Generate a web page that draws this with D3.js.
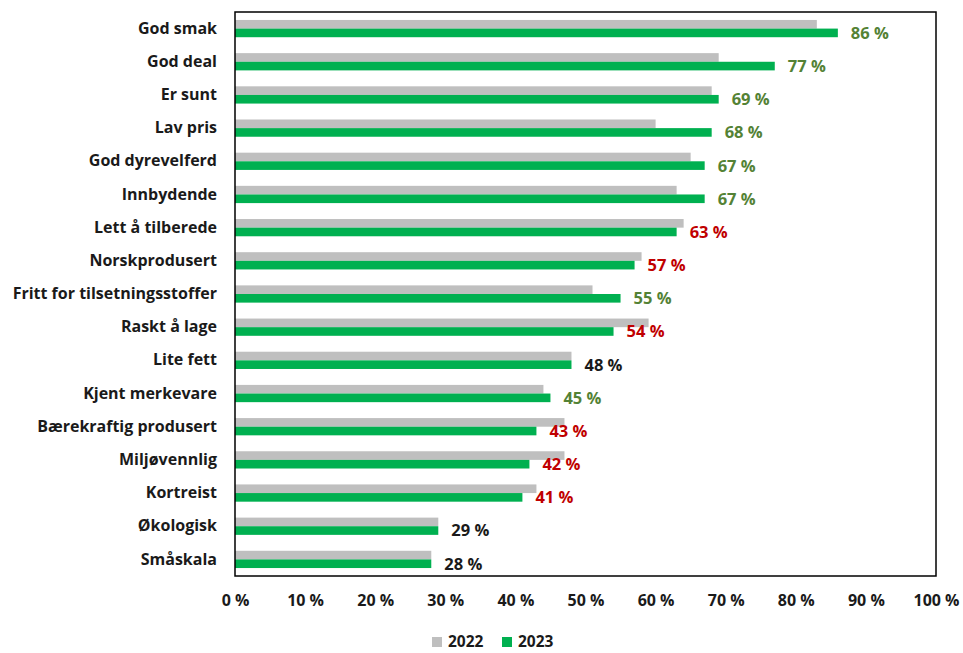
<!DOCTYPE html>
<html>
<head>
<meta charset="utf-8">
<script src="https://cdn.jsdelivr.net/npm/d3@7"></script>
<style>
  html, body { margin: 0; padding: 0; background: #fff; }
  svg { display: block; }
  text { font-family: "Open Sans", Lato, "Liberation Sans", sans-serif; font-weight: 700; }
</style>
</head>
<body>
<svg id="chart" width="963" height="653"></svg>
<script>
// Reasons for choosing a product, share of respondents
const categories = [
  "God smak", "God deal", "Er sunt", "Lav pris", "God dyrevelferd", "Innbydende",
  "Lett å tilberede", "Norskprodusert", "Fritt for tilsetningsstoffer", "Raskt å lage",
  "Lite fett", "Kjent merkevare", "Bærekraftig produsert", "Miljøvennlig",
  "Kortreist", "Økologisk", "Småskala"
];
const years = ["2022", "2023"];
const values2022 = [83, 69, 68, 60, 65, 63, 64, 58, 51, 59, 48, 44, 47, 47, 43, 29, 28];
const values2023 = [86, 77, 69, 68, 67, 67, 63, 57, 55, 54, 48, 45, 43, 42, 41, 29, 28];
const xTicks = [0, 10, 20, 30, 40, 50, 60, 70, 80, 90, 100];

const colors = { "2022": "#BFBFBF", "2023": "#00B050" };
const changeColor = d => d > 0 ? "#548235" : d < 0 ? "#C00000" : "#1a1a1a";
const fontStack = "'Open Sans', Lato, sans-serif";

const svg = d3.select("#chart");
const plot = { left: 235, right: 936, top: 12, bottom: 576 };

const x = d3.scaleLinear().domain([0, 100]).range([plot.left, plot.right]);
const y = d3.scaleBand().domain(categories).range([plot.top, plot.bottom])
  .paddingInner(0.48).paddingOuter(0.24);
const ySub = d3.scaleBand().domain(years).range([0, y.bandwidth()]);

const rows = categories.map((c, i) => ({
  cat: c,
  v: { "2022": values2022[i], "2023": values2023[i] }
}));

// bars
const groups = svg.append("g").selectAll("g").data(rows).join("g")
  .attr("transform", d => `translate(0,${y(d.cat)})`);
groups.selectAll("rect").data(d => years.map(yr => ({ yr, val: d.v[yr] }))).join("rect")
  .attr("x", x(0))
  .attr("y", d => ySub(d.yr))
  .attr("width", d => x(d.val) - x(0))
  .attr("height", ySub.bandwidth())
  .attr("fill", d => colors[d.yr]);

// value labels for 2023, coloured by change from 2022
groups.append("text")
  .attr("x", d => x(d.v["2023"]) + 13)
  .attr("y", d => ySub("2023") + ySub.bandwidth() / 2)
  .attr("dy", "0.36em")
  .attr("font-size", 16.5)
  .attr("fill", d => changeColor(d.v["2023"] - d.v["2022"]))
  .text(d => d.v["2023"] + " %");

// plot frame
svg.append("rect")
  .attr("x", plot.left).attr("y", plot.top)
  .attr("width", plot.right - plot.left).attr("height", plot.bottom - plot.top)
  .attr("fill", "none").attr("stroke", "#000").attr("stroke-width", 1.5);

// category axis
const yAxis = svg.append("g")
  .attr("transform", `translate(${plot.left},0)`)
  .call(d3.axisLeft(y).tickSize(0).tickPadding(18));
yAxis.select(".domain").remove();
yAxis.selectAll("text")
  .attr("font-size", 16)
  .attr("fill", "#1a1a1a")
  .style("font-family", fontStack)
  .style("font-weight", 700);

// value axis
const xAxis = svg.append("g")
  .attr("transform", `translate(0,${plot.bottom})`)
  .call(d3.axisBottom(x).tickValues(xTicks).tickSize(0).tickPadding(19)
    .tickFormat(d => d + " %"));
xAxis.select(".domain").remove();
xAxis.selectAll("text")
  .attr("font-size", 16)
  .attr("fill", "#1a1a1a")
  .style("font-family", fontStack)
  .style("font-weight", 700);

// legend
const legend = svg.append("g").attr("transform", "translate(432,641)");
const legendX = d3.scalePoint().domain(years).range([0, 70]);
const li = legend.selectAll("g").data(years).join("g")
  .attr("transform", d => `translate(${legendX(d)},0)`);
li.append("rect").attr("x", 0).attr("y", -4).attr("width", 10).attr("height", 10)
  .attr("fill", d => colors[d]);
li.append("text").attr("x", 16).attr("dy", "0.36em").attr("font-size", 15.5)
  .attr("fill", "#1a1a1a").text(d => d);
</script>
</body>
</html>
